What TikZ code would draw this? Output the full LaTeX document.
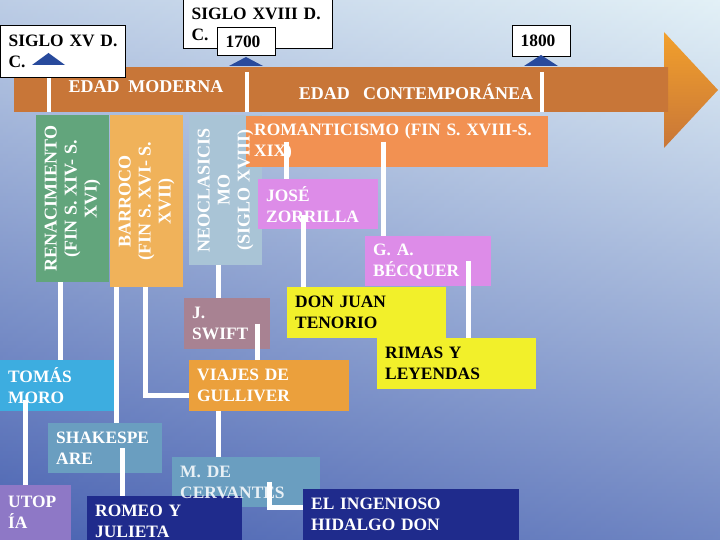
\documentclass[tikz,border=0pt]{standalone}
\usepackage{fontspec}
\setmainfont{Liberation Serif}
\usetikzlibrary{positioning}

\definecolor{bgtop}{HTML}{E3F1F7}
\definecolor{bgmid}{HTML}{A9BEDC}
\definecolor{bgbottom}{HTML}{4A63B2}
\definecolor{bandedge}{HTML}{C87638}
\definecolor{bandmid}{HTML}{9A5649}
\definecolor{headtop}{HTML}{F2A02C}
\definecolor{pointerblue}{HTML}{284A9C}
\definecolor{renacgreen}{HTML}{62A57C}
\definecolor{barrocoorange}{HTML}{F0B25A}
\definecolor{neogray}{HTML}{A9C4D6}
\definecolor{romanorange}{HTML}{F29152}
\definecolor{authorviolet}{HTML}{DD8CE8}
\definecolor{workyellow}{HTML}{F2F02A}
\definecolor{swiftmauve}{HTML}{A88292}
\definecolor{gulliverorange}{HTML}{EBA03C}
\definecolor{morocyan}{HTML}{3DADE0}
\definecolor{shaketeal}{HTML}{6A9EC0}
\definecolor{utopiapurple}{HTML}{8E78C6}
\definecolor{worknavy}{HTML}{1F2B8C}

\newcommand{\boxfont}{\bfseries\fontsize{17.4}{21}\selectfont}

\begin{document}
\begin{tikzpicture}[x=1pt,y=-1pt,
  box/.style={anchor=north west,inner xsep=8pt,inner ysep=0pt,align=left,text=white,font=\boxfont},
  callout/.style={box,fill=white,draw=black,line width=1.2pt,text=black},
  vtext/.style={rotate=90,align=center,text=white,font=\bfseries\fontsize{18}{20}\selectfont,inner sep=0pt},
  band label/.style={text=white,font=\bfseries\fontsize{18}{21}\selectfont,inner sep=0pt},
  link/.style={draw=white,line width=5pt},
  pointer/.style={fill=pointerblue}]

  \useasboundingbox (0,0) rectangle (720,540);
  \shade[top color=bgtop,middle color=bgmid,bottom color=bgbottom] (0,0) rectangle (720,540);
  \shade[left color=bgbottom,right color=bgtop,opacity=0.25] (0,0) rectangle (720,540);

  \shade[top color=headtop,middle color=bandmid,bottom color=bandedge]
    (664,32) -- (718,90) -- (664,148) -- cycle;
  \shade[top color=bandedge,middle color=bandmid,bottom color=bandedge]
    (14,68) rectangle (668,112);
  \draw[white,line width=4pt] (49,72) -- (49,112) (247,72) -- (247,112) (542,72) -- (542,112);

  \node[band label] (moderna) at (146,87) {EDAD\ \ MODERNA};
  \node[band label] (contemp) at (416,92) {EDAD\ \ \ CONTEMPORÁNEA};

  \node[callout,minimum height=52,text width=109] (xv) at (0,25) {SIGLO~XV~D.\\C.};
  \node[callout,minimum height=49,text width=133] (xviii) at (183,-1) {SIGLO~XVIII~D.\\C.};
  \node[callout,minimum height=28,text width=42] (y1700) at (217,27) {1700};
  \node[callout,minimum height=31,text width=42] (y1800) at (512,25) {1800};
  \fill[pointer] (32,65) -- (65,65) -- (48.5,53) -- cycle;
  \fill[pointer] (229,66) -- (263,66) -- (246,57) -- cycle;
  \fill[pointer] (524,66) -- (558,66) -- (541,55) -- cycle;

  \node[box,fill=renacgreen,minimum width=73,minimum height=167] (renac) at (36,115) {};
  \node[vtext] at (renac) {RENACIMIENTO\\(FIN S. XIV- S.\\XVI)};
  \node[box,fill=barrocoorange,minimum width=73,minimum height=172] (barroco) at (110,115) {};
  \node[vtext] at (barroco) {BARROCO\\(FIN S. XVI- S.\\XVII)};
  \node[box,fill=neogray,minimum width=73,minimum height=150] (neo) at (189,115) {};
  \node[box,fill=romanorange,minimum height=51,text width=286] (roman) at (246,116) {ROMANTICISMO (FIN S.~XVIII-S.\\XIX)};
  \node[vtext] at (neo) {NEOCLASICIS\\MO\\(SIGLO XVIII)};

  \node[box,fill=authorviolet,minimum height=50,text width=104] (zorrilla) at (258,179) {JOSÉ\\ZORRILLA};
  \node[box,fill=authorviolet,minimum height=50,text width=110] (becquer) at (365,236) {G. A.\\BÉCQUER};
  \node[box,fill=workyellow,text=black,minimum height=51,text width=143] (tenorio) at (287,287) {DON JUAN\\TENORIO};
  \node[box,fill=workyellow,text=black,minimum height=51,text width=143] (rimas) at (377,338) {RIMAS Y\\LEYENDAS};
  \node[box,fill=swiftmauve,minimum height=51,text width=70] (swift) at (184,298) {J.\\SWIFT};
  \node[box,fill=gulliverorange,minimum height=51,text width=144] (gulliver) at (189,360) {VIAJES DE\\GULLIVER};
  \node[box,fill=morocyan,minimum height=51,text width=99] (moro) at (0,360) {TOMÁS\\MORO};
  \node[box,fill=shaketeal,minimum height=50,text width=98] (shakes) at (48,423) {SHAKESPE\\ARE};
  \node[box,fill=utopiapurple,minimum height=55,text width=55] (utopia) at (0,485) {UTOP\\ÍA};
  \node[box,fill=shaketeal,minimum width=148,minimum height=50] (cervantes) at (172,457) {};
  \node[box,fill=worknavy,minimum height=50,text width=139] (romeo) at (87,496) {ROMEO Y\\JULIETA};
  \node[box,anchor=west,text opacity=0.85,text width=132] at (cervantes.west) {M. DE\\CERVANTES};
  \node[box,fill=worknavy,minimum height=51,text width=200] (quijote) at (303,489) {EL INGENIOSO\\HIDALGO DON};

  \draw[link] ([xshift=24]renac.south west) -- ([xshift=24]renac.south west |- moro.north);
  \draw[link] ([xshift=6]barroco.south west) -- ([xshift=6]barroco.south west |- shakes.north);
  \draw[link] ([xshift=35]barroco.south west) |- ([yshift=-10]gulliver.west);
  \draw[link] ([xshift=29]neo.south west) -- ([xshift=29]neo.south west |- swift.north);
  \draw[link] ([xshift=-13]swift.east) -- ([xshift=-13]swift.east |- gulliver.north);
  \draw[link] ([xshift=25,yshift=11]moro.south west) -- ([xshift=25]moro.south west |- utopia.north);
  \draw[link] ([xshift=-40]shakes.east) -- ([xshift=-40]shakes.east |- romeo.north);
  \draw[link] ([xshift=29]gulliver.south west) -- ([xshift=29]gulliver.south west |- cervantes.north);
  \draw[link] ([xshift=-51]cervantes.east) |- ([yshift=7]quijote.west);
  \draw[link] ([xshift=40]roman.west) -- ([xshift=40]roman.west |- zorrilla.north);
  \draw[link] ([xshift=137]roman.west) -- ([xshift=137]roman.west |- becquer.north);
  \draw[link] ([xshift=45,yshift=-11]zorrilla.west) -- ([xshift=45]zorrilla.west |- tenorio.north);
  \draw[link] ([xshift=103]becquer.west) -- ([xshift=103]becquer.west |- rimas.north);

\end{tikzpicture}
\end{document}
